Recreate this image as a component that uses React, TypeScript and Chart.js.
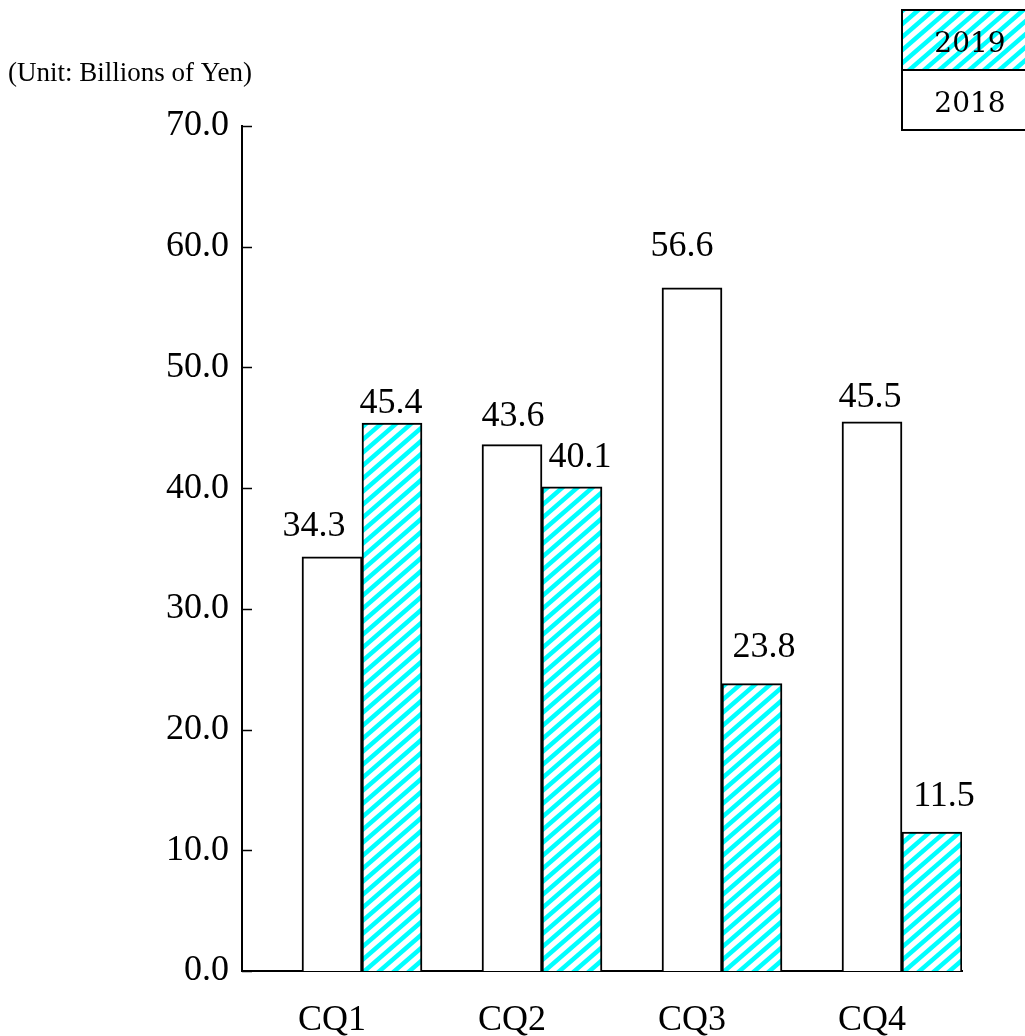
import React, { useEffect, useRef } from 'react';
import { Chart, registerables } from 'chart.js';

Chart.register(...registerables);

const categories = ['CQ1', 'CQ2', 'CQ3', 'CQ4'];
const seriesNames = ['2018', '2019'];
const values2018 = [34.3, 43.6, 56.6, 45.5];
const values2019 = [45.4, 40.1, 23.8, 11.5];
const yMin = 0;
const yMax = 70;
const yStep = 10;
const unitLabel = '(Unit: Billions of Yen)';

const SERIF = '"Liberation Serif", "Times New Roman", serif';

// style: per-label placement relative to the bar top (dx, gap above)
const labelPlacement = [
  [{ dx: -18, gap: 21 }, { dx: 1, gap: 19 }, { dx: -10, gap: 32 }, { dx: -2, gap: 15 }],
  [{ dx: -1, gap: 10 }, { dx: 8, gap: 20 }, { dx: 12, gap: 27 }, { dx: 12, gap: 26 }],
];

function makeHatch(ctx: CanvasRenderingContext2D): CanvasPattern | string {
  const w = 15;
  const h = 13;
  const c = document.createElement('canvas');
  c.width = w;
  c.height = h;
  const p = c.getContext('2d');
  if (!p) return '#00FFFF';
  p.fillStyle = '#FFFFFF';
  p.fillRect(0, 0, w, h);
  p.strokeStyle = '#00FFFF';
  p.lineWidth = 4.5;
  const ex = w / h;
  for (const k of [-1, 0, 1]) {
    p.beginPath();
    p.moveTo(k * w - ex * 2, h + 2);
    p.lineTo((k + 1) * w + ex * 2, -2);
    p.stroke();
  }
  return ctx.createPattern(c, 'repeat') || '#00FFFF';
}

export default function App() {
  const ref = useRef<HTMLCanvasElement | null>(null);

  useEffect(() => {
    document.body.style.margin = '0';
    const canvas = ref.current;
    if (!canvas) return;
    const ctx = canvas.getContext('2d');
    if (!ctx) return;
    const hatch = makeHatch(ctx);

    const decor = {
      id: 'decor',
      afterDatasetsDraw(chart: any) {
        const c = chart.ctx as CanvasRenderingContext2D;
        c.save();
        c.fillStyle = '#000';
        c.font = `36px ${SERIF}`;
        c.textAlign = 'center';
        c.textBaseline = 'alphabetic';
        chart.data.datasets.forEach((ds: any, di: number) => {
          const si = ds.seriesIndex;
          if (si === undefined) return;
          const meta = chart.getDatasetMeta(di);
          meta.data.forEach((bar: any, i: number) => {
            const pl = labelPlacement[si][i];
            c.fillText(Number(ds.data[i]).toFixed(1), bar.x + pl.dx, bar.y - pl.gap);
          });
        });
        c.restore();
      },
      afterDraw(chart: any) {
        const c = chart.ctx as CanvasRenderingContext2D;
        const y = chart.scales.y;
        const area = chart.chartArea;
        c.save();
        // inward tick marks
        c.strokeStyle = '#000';
        c.lineWidth = 1.5;
        y.ticks.forEach((t: any) => {
          const py = Math.round(y.getPixelForValue(t.value)) + 0.5;
          c.beginPath();
          c.moveTo(area.left, py);
          c.lineTo(area.left + 10, py);
          c.stroke();
        });
        // unit label
        c.fillStyle = '#000';
        c.font = `27px ${SERIF}`;
        c.textAlign = 'left';
        c.textBaseline = 'alphabetic';
        c.fillText(unitLabel, 8, 81);
        // legend
        const lx = 902;
        const ly = 10;
        const lw = 140;
        const lh = 60;
        c.fillStyle = hatch as any;
        c.fillRect(lx, ly, lw, lh);
        c.fillStyle = '#FFFFFF';
        c.fillRect(lx, ly + lh, lw, lh);
        c.strokeStyle = '#000';
        c.lineWidth = 2;
        c.strokeRect(lx, ly, lw, lh);
        c.strokeRect(lx, ly + lh, lw, lh);
        c.fillStyle = '#000';
        c.font = '28px "DejaVu Serif", serif';
        c.textAlign = 'center';
        c.fillText(seriesNames[1], 970, ly + 42);
        c.fillText(seriesNames[0], 970, ly + lh + 42);
        c.restore();
      },
    };

    const common = {
      borderColor: '#000000',
      borderWidth: 2,
      categoryPercentage: 1,
      barPercentage: 1,
    };

    const chart = new Chart(ctx, {
      type: 'bar',
      data: {
        labels: categories,
        datasets: [
          // empty spacer slot (the original chart leaves the first slot of each group blank)
          { label: '', data: [], backgroundColor: 'rgba(0,0,0,0)', ...common, borderWidth: 0 } as any,
          {
            label: seriesNames[0],
            data: values2018,
            backgroundColor: '#FFFFFF',
            seriesIndex: 0,
            ...common,
          } as any,
          {
            label: seriesNames[1],
            data: values2019,
            backgroundColor: hatch as any,
            seriesIndex: 1,
            ...common,
          } as any,
        ],
      },
      options: {
        responsive: false,
        animation: false,
        layout: { padding: { top: 126, right: 63, left: 0, bottom: 0 } },
        plugins: {
          legend: { display: false },
          tooltip: { enabled: false },
          title: { display: false },
        },
        scales: {
          x: {
            grid: { display: false },
            border: { display: true, color: '#000', width: 2 },
            ticks: {
              color: '#000',
              font: { family: SERIF, size: 36 },
              padding: 20,
              maxRotation: 0,
            },
            afterFit(s: any) {
              s.height = 65;
            },
          },
          y: {
            min: yMin,
            max: yMax,
            grid: { display: false },
            border: { display: true, color: '#000', width: 2 },
            ticks: {
              stepSize: yStep,
              color: '#000',
              font: { family: SERIF, size: 36 },
              padding: 5,
              callback: (v: any) => Number(v).toFixed(1),
            },
            afterFit(s: any) {
              s.width = 242;
            },
          },
        },
      },
      plugins: [decor],
    });

    return () => chart.destroy();
  }, []);

  return (
    <div style={{ width: 1025, height: 1036 }}>
      <canvas ref={ref} width={1025} height={1036} style={{ display: 'block' }} />
    </div>
  );
}
